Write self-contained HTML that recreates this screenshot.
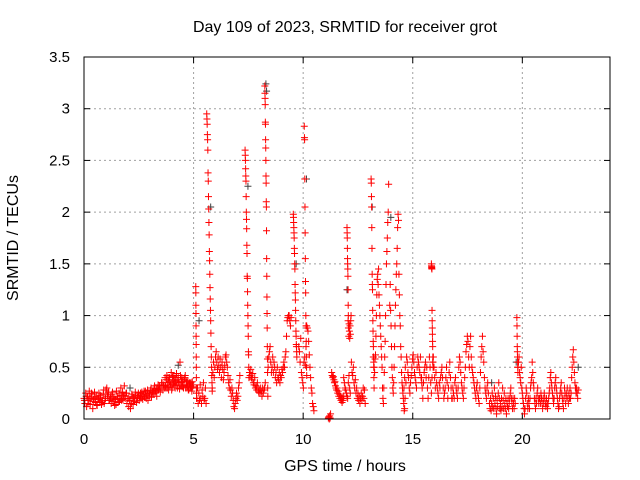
<!DOCTYPE html>
<html><head><meta charset="utf-8"><style>
body{margin:0;background:#fff}
svg{display:block;font-family:"Liberation Sans",sans-serif}
</style></head><body>
<svg id="chart" width="640" height="480">
<rect width="640" height="480" fill="#fff"/>
<text x="345" y="32" font-size="16" text-anchor="middle">Day 109 of 2023, SRMTID for receiver grot</text>
<text x="345" y="471" font-size="16" text-anchor="middle">GPS time / hours</text>
<text x="18" y="238" font-size="16" text-anchor="middle" transform="rotate(-90 18 238)">SRMTID / TECUs</text>
<g id="grid"></g>
<g id="ticks"></g>
<g id="gray"></g>
<g id="red"></g>
<rect x="84" y="57" width="526" height="362" fill="none" stroke="#000" stroke-width="1"/>
</svg>
<script>
const xTicks=[0,5,10,15,20];
const yTicks=[0,0.5,1,1.5,2,2.5,3,3.5];
const yTickLabels=["0","0.5","1","1.5","2","2.5","3","3.5"];
const segStarts=[0,0.02,3.7,3.72,5.1,5.15,5.6,5.85,7.35,7.55,8.25,8.4,9.55,10.05,9.8,11.15,11.3,11.85,12.0,12.05,12.2,13.1,13.2,13.95,14.6,15.85,15.4,16.8,18.5,19.75,19.8,20.8];
const segSteps=[0.04,0.08,0.04,0.04,0.003,0.03,0.01,0.03,0.008,0.03,0.006,0.03,0.008,0.008,0.03,0.02,0.025,0.03,0.006,0.015,0.03,0.008,0.02,0.02,0.03,0.006,0.03,0.03,0.025,0.006,0.025,0.025];
const segValues=[
[0.2,0.15,0.25,0.12,0.22,0.18,0.27,0.14,0.2,0.24,0.1,0.19,0.26,0.16,0.22,0.13,0.2,0.25,0.17,0.21,0.14,0.18,0.24,0.15,0.2,0.28,0.3,0.22,0.26,0.18,0.2,0.15,0.24,0.17,0.21,0.13,0.19,0.27,0.22,0.16,0.25,0.2,0.3,0.18,0.26,0.23,0.32,0.2,0.25,0.15,0.2,0.12,0.18,0.1,0.15,0.22,0.14,0.2,0.17,0.23,0.16,0.21,0.25,0.18,0.22,0.2,0.26,0.19,0.24,0.21,0.27,0.2,0.23,0.18,0.25,0.22,0.28,0.21,0.26,0.24,0.3,0.25,0.27,0.22,0.3,0.28,0.32,0.26,0.3,0.35,0.28,0.33,0.3],
[0.18,0.22,0.15,0.2,0.25,0.17,0.21,0.14,0.19,0.23,0.16,0.28,0.2,0.24,0.18,0.22,0.26,0.19,0.14,0.2,0.17,0.23,0.19,0.22,0.25,0.2,0.18,0.24,0.21,0.26,0.2,0.23,0.25,0.22,0.27,0.24,0.28,0.25,0.3,0.27,0.32,0.29,0.33,0.3,0.35,0.32],
[0.4,0.3,0.42,0.35,0.28,0.4,0.33,0.45,0.3,0.38,0.42,0.32,0.36,0.44,0.3,0.4,0.35,0.55,0.32,0.4,0.36,0.3,0.38,0.42,0.33,0.3,0.37,0.28,0.35,0.32,0.3,0.36,0.33],
[0.32,0.38,0.3,0.4,0.36,0.31,0.35,0.28,0.41,0.34,0.37,0.3,0.4,0.33,0.38,0.35,0.29,0.42,0.36,0.31,0.38,0.33,0.4,0.3,0.36,0.32,0.28,0.34,0.3,0.35,0.27,0.31],
[1.28,1.22,1.1,1.02,0.9,0.8,0.72,0.6,0.5,0.4,0.3,0.25,0.2],
[0.2,0.3,0.15,0.25,0.18,0.33,0.2,0.15,0.28,0.22,0.35,0.18,0.2,0.3,0.15],
[2.95,2.9,2.85,2.75,2.7,2.6,2.38,2.3,2.15,2.03,1.9,1.78,1.62,1.53,1.4,1.27,1.16,1.05,0.95,0.83,0.7,0.6,0.5,0.42,0.35,0.27],
[0.3,0.45,0.55,0.4,0.5,0.6,0.65,0.55,0.48,0.6,0.52,0.45,0.58,0.5,0.4,0.55,0.48,0.38,0.45,0.52,0.6,0.62,0.55,0.5,0.42,0.35,0.3,0.38,0.28,0.22,0.3,0.25,0.18,0.12,0.1,0.15,0.2,0.25,0.18,0.22,0.3,0.35,0.42],
[2.6,2.55,2.5,2.42,2.35,2.3,2.15,2,1.93,1.84,1.68,1.6,1.38,1.36,1.23,1.1,1.0,0.9,0.8,0.65,0.62,0.5,0.4],
[0.45,0.42,0.48,0.4,0.38,0.44,0.35,0.33,0.4,0.3,0.32,0.28,0.35,0.3,0.26,0.28,0.25,0.3,0.27,0.22,0.3,0.25,0.28,0.3,0.35],
[3.22,3.15,3.1,3.04,2.87,2.85,2.7,2.62,2.5,2.35,2.28,2.1,2.05,1.82,1.55,1.38,1.18,1.02,0.88,0.7,0.58,0.45,0.3,0.22],
[0.5,0.6,0.65,0.7,0.55,0.45,0.5,0.6,0.45,0.55,0.5,0.4,0.45,0.35,0.5,0.4,0.38,0.45,0.35,0.42,0.4,0.48,0.45,0.5,0.55,0.5,0.6,0.65,0.8,0.95,0.98,1.0,1.0,0.95,0.9,0.98],
[1.98,1.95,1.9,1.85,1.8,1.75,1.65,1.6,1.5,1.45,1.3,1.22,1.15,1.05,0.95,0.85,0.8,0.72,0.7,0.65,0.6],
[2.83,2.72,2.7,2.32,2.05,1.8,1.55,1.33,1.22,1.0,0.9,0.75,0.6,0.5,0.42],
[0.7,0.65,0.55,0.78,0.45,0.4,0.35,0.3,0.55,0.6,0.52,0.7,0.9,0.88,0.85,0.75,0.62,0.5,0.4,0.3,0.25,0.15,0.12,0.08],
[0.01,0.02,0.0,0.03,0.01,0.05],
[0.45,0.42,0.4,0.41,0.38,0.35,0.36,0.32,0.3,0.28,0.3,0.25,0.27,0.22,0.24,0.2,0.22,0.18,0.2,0.16,0.2,0.18,0.22],
[0.4,0.35,0.3,0.28,0.25,0.22,0.2,0.35,0.42,0.3,0.25],
[1.85,1.8,1.75,1.65,1.55,1.5,1.45,1.38,1.25,1.1,1.0],
[0.95,0.88,0.8,0.92,0.85,0.78,0.9,0.82,0.95,1.0],
[0.55,0.45,0.42,0.5,0.35,0.3,0.38,0.25,0.3,0.2,0.25,0.18,0.22,0.15,0.2,0.25,0.18,0.22,0.3,0.2,0.28,0.15],
[2.32,2.28,2.15,2.05,1.85,1.65,1.4,1.3,1.25,1.05,0.95,0.85,0.75,0.7,0.6,0.5,0.4,0.3],
[0.6,0.55,0.5,0.45,0.58,0.62,0.8,1.0,1.2,1.35,1.4,1.3,1.45,1.2,1.1,1.0,0.9,0.8,0.7,0.6,0.5,0.3,0.2,0.15,0.3,0.45,0.6,0.75,1.0,1.3,1.5,1.62,1.75,1.9,2.0,2.27],
[1.1,1.3,1.05,0.9,0.7,0.5,0.4,0.3,0.25,0.35,0.5,0.7,0.9,1.1,1.25,1.4,1.5,1.65,1.85,1.98,1.92,1.4,1.2,1.0,0.9,0.7,0.6,0.45,0.35,0.3,0.25,0.2,0.15,0.08,0.1,0.2],
[0.3,0.4,0.5,0.35,0.6,0.55,0.45,0.4,0.3,0.25,0.35,0.42,0.5,0.58,0.62,0.55,0.45,0.4,0.35,0.3,0.5,0.6,0.55,0.5,0.45,0.6,0.4,0.35],
[1.5,1.48,1.46,1.47,1.45,1.05,0.95,0.88,0.82,0.75,0.7,0.6,0.55,0.5],
[0.4,0.3,0.2,0.35,0.45,0.5,0.55,0.4,0.5,0.3,0.2,0.4,0.6,0.5,0.35,0.25,0.4,0.55,0.6,0.5,0.4,0.3,0.45,0.35,0.3,0.25,0.2,0.35,0.3,0.4,0.45,0.5,0.4,0.3,0.2,0.25,0.3,0.4,0.5,0.35,0.2,0.3,0.45,0.55,0.4,0.3,0.2],
[0.2,0.3,0.25,0.2,0.35,0.4,0.3,0.25,0.2,0.3,0.5,0.6,0.55,0.45,0.35,0.3,0.25,0.2,0.3,0.4,0.5,0.65,0.72,0.8,0.75,0.6,0.5,0.7,0.8,0.6,0.5,0.45,0.4,0.35,0.3,0.25,0.2,0.3,0.35,0.25,0.2,0.15,0.3,0.45,0.6,0.7,0.8,0.65,0.55,0.4,0.3,0.25,0.2,0.3,0.35,0.25],
[0.15,0.1,0.2,0.08,0.15,0.25,0.12,0.2,0.1,0.3,0.15,0.22,0.1,0.05,0.18,0.12,0.25,0.35,0.2,0.1,0.15,0.08,0.2,0.12,0.3,0.18,0.1,0.25,0.15,0.1,0.2,0.05,0.15,0.12,0.2,0.1,0.15,0.2,0.25,0.3,0.2,0.15,0.1,0.2,0.15,0.1,0.2,0.15],
[0.98,0.9,0.8,0.7,0.65,0.6,0.55,0.5,0.45],
[0.5,0.55,0.6,0.45,0.4,0.35,0.5,0.3,0.25,0.2,0.15,0.1,0.05,0.1,0.2,0.3,0.25,0.15,0.1,0.2,0.15,0.1,0.2,0.3,0.35,0.4,0.55,0.45,0.35,0.3,0.2,0.15,0.1,0.2,0.15,0.25,0.3,0.2,0.15,0.2],
[0.2,0.15,0.25,0.2,0.15,0.1,0.2,0.15,0.25,0.2,0.15,0.12,0.2,0.15,0.1,0.15,0.2,0.25,0.3,0.4,0.45,0.35,0.3,0.25,0.2,0.15,0.2,0.3,0.35,0.4,0.3,0.25,0.2,0.15,0.1,0.12,0.2,0.25,0.3,0.35,0.25,0.2,0.15,0.1,0.2,0.3,0.25,0.15,0.2,0.25,0.3,0.2,0.15,0.25,0.2,0.3,0.2,0.25,0.4,0.5,0.6,0.67,0.55,0.45,0.35,0.3,0.25,0.3,0.25,0.2,0.28]
];
const grayTimes=[8.3,8.33,5.78,7.48,13.15,9.68,10.15,5.25,19.72,22.55,4.3,14.0,18.6,2.1,12.0];
const grayValues=[3.24,3.17,2.05,2.25,2.05,1.5,2.32,0.95,0.55,0.5,0.52,1.95,0.35,0.3,1.25];

const NS="http://www.w3.org/2000/svg";
const X0=84,X1=610,Y0=419,Y1=57,XMAX=24,YMAX=3.5;
function xs(t){return X0+t*(X1-X0)/XMAX;}
function ys(v){return Y0-v*(Y0-Y1)/YMAX;}
function mk(tag,attrs,parent){const e=document.createElementNS(NS,tag);for(const k in attrs)e.setAttribute(k,attrs[k]);parent.appendChild(e);return e;}
const grid=document.getElementById('grid'),ticks=document.getElementById('ticks');
xTicks.forEach(t=>{
  const x=xs(t);
  if(t>0){const l=mk('line',{x1:x,y1:Y1,x2:x,y2:Y0,stroke:'#a0a0a0','stroke-dasharray':'2,3'},grid);
  
  }
  mk('line',{x1:x,y1:Y0,x2:x,y2:Y0-6,stroke:'#000'},ticks);
  mk('line',{x1:x,y1:Y1,x2:x,y2:Y1+6,stroke:'#000'},ticks);
  const tx=mk('text',{x:x,y:444,'font-size':15,'text-anchor':'middle'},ticks);tx.textContent=t;
  
  
});
yTicks.forEach((v,i)=>{
  const y=ys(v);
  if(v>0&&v<YMAX){const l=mk('line',{x1:X0,y1:y,x2:X1,y2:y,stroke:'#a0a0a0','stroke-dasharray':'2,3'},grid);
  
  }
  mk('line',{x1:X0,y1:y,x2:X0+6,y2:y,stroke:'#000'},ticks);
  mk('line',{x1:X1,y1:y,x2:X1-6,y2:y,stroke:'#000'},ticks);
  const tx=mk('text',{x:70,y:y+5,'font-size':15,'text-anchor':'end'},ticks);tx.textContent=yTickLabels[i];
  
  
});
function plus(g,t,v,col){
  const x=xs(t),y=ys(v);
  const p=mk('path',{d:`M${x-3.5},${y}h7M${x},${y-3.5}v7`,stroke:col,'stroke-width':1,fill:'none'},g);
  
  
}
const gg=document.getElementById('gray'),rg=document.getElementById('red');
grayTimes.forEach((t,i)=>plus(gg,t,grayValues[i],'#404040'));
segValues.forEach((vals,s)=>vals.forEach((v,i)=>plus(rg,segStarts[s]+segSteps[s]*i,v,'#ff0000')));
</script>
</body></html>
